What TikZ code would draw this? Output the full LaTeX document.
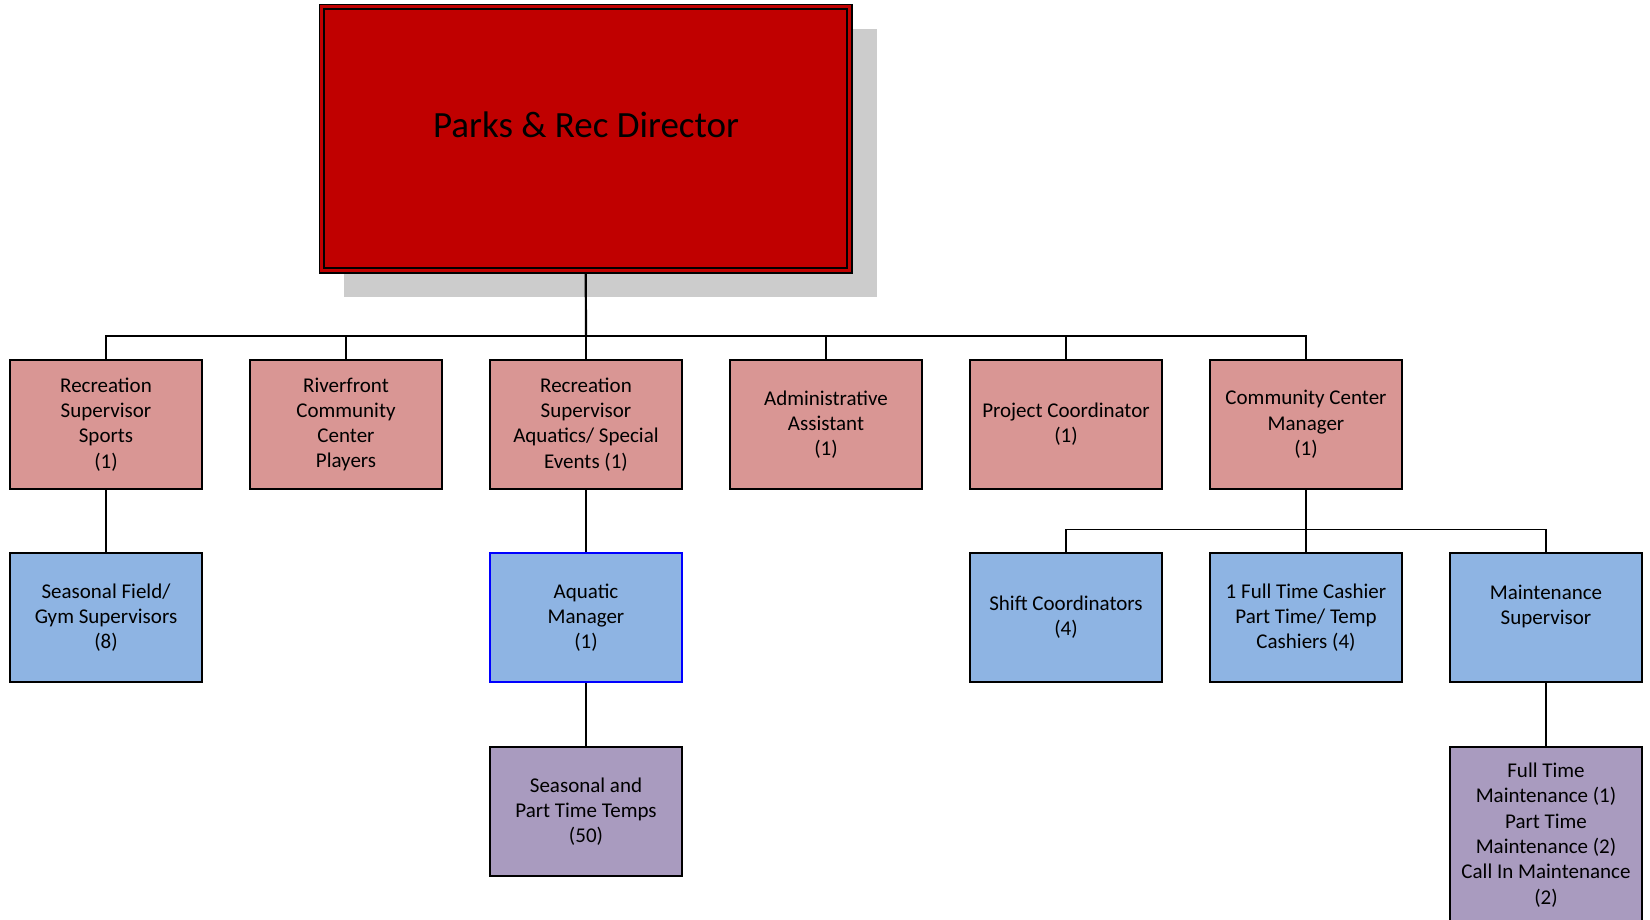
\documentclass[tikz,border=0pt]{standalone}
\usepackage{fontspec}
\setmainfont{Carlito}
\usetikzlibrary{shadows}
\definecolor{dirred}{HTML}{C00000}
\definecolor{shadegray}{HTML}{CCCCCC}
\definecolor{rolepink}{HTML}{D99694}
\definecolor{roleblue}{HTML}{8EB4E3}
\definecolor{rolepurple}{HTML}{A99BBF}
\begin{document}
\begin{tikzpicture}[x=1pt,y=-1pt,
  role/.style={draw=black, line width=1.5pt, minimum width=192pt, minimum height=129pt,
    inner sep=0pt, align=center, font=\fontsize{21}{25.3}\selectfont},
  pinkbox/.style={role, fill=rolepink},
  bluebox/.style={role, fill=roleblue},
  purplebox/.style={role, fill=rolepurple},
  conn/.style={draw=black, line width=1.6pt},
  trunk/.style={draw=black, line width=2.2pt},
  dirbox/.style={draw=black, line width=1.5pt, fill=dirred, minimum width=532.5pt,
    minimum height=268.5pt, inner sep=0pt,
    general shadow={fill=shadegray, shadow xshift=24.5pt, shadow yshift=-24pt}}
]
\clip (0,0) rectangle (1650,919);
\fill[white] (0,0) rectangle (1650,919);

% director
\node[dirbox] (dir) at (585.75,138.75) {};
\draw[line width=1.6pt] ([shift={(5.5,5.5)}]dir.north west) rectangle ([shift={(-5.5,-5.5)}]dir.south east);
\node[anchor=base, font=\fontsize{37}{44}\selectfont, inner sep=0pt] (dirlabel) at (586,137.3) {Parks \& Rec Director};

% first level
\node[pinkbox] (r1) at (106,424.5)  {Recreation\\Supervisor\\Sports\\(1)};
\node[pinkbox] (r2) at (346,424.5)  {Riverfront\\Community\\Center\\Players};
\node[pinkbox] (r3) at (586,424.5)  {Recreation\\Supervisor\\Aquatics/ Special\\Events (1)};
\node[pinkbox] (r4) at (826,424.5)  {Administrative\\Assistant\\(1)};
\node[pinkbox] (r5) at (1066,424.5) {Project Coordinator\\(1)};
\node[pinkbox] (r6) at (1306,424.5) {Community Center\\Manager\\(1)};

% second level
\node[bluebox] (s1) at (106,617.5)  {Seasonal Field/\\Gym Supervisors\\(8)};
\node[bluebox, draw=blue] (s3) at (586,617.5) {Aquatic\\Manager\\(1)};
\node[bluebox] (s5) at (1066,617.5) {Shift Coordinators\\(4)};
\node[bluebox] (s6) at (1306,617.5) {1 Full Time Cashier\\Part Time/ Temp\\Cashiers (4)};
\node[bluebox] (s7) at (1546,617.5) {Maintenance\\Supervisor\\\mbox{}};

% third level
\node[purplebox] (t3) at (586,811.5) {Seasonal and\\Part Time Temps\\(50)};
\node[purplebox, minimum height=176pt] (t7) at (1546,835) {Full Time\\Maintenance (1)\\Part Time\\Maintenance (2)\\Call In Maintenance\\(2)};

% connectors
\coordinate (bus) at (586,336);
\coordinate (bus2) at (1306,529.5);
\draw[trunk] (dir.south) -- (bus);
\draw[conn] (r1.north) -- (r1.north |- bus) -- (r6.north |- bus) -- (r6.north);
\foreach \n in {r2,r3,r4,r5} \draw[conn] (\n.north) -- (\n.north |- bus);
\draw[conn] (r1.south) -- (s1.north);
\draw[conn] (r3.south) -- (s3.north);
\draw[conn] (s3.south) -- (t3.north);
\draw[trunk] (r6.south) -- (bus2);
\draw[conn] (s5.north) -- (s5.north |- bus2) -- (s7.north |- bus2) -- (s7.north);
\draw[conn] (s6.north) -- (s6.north |- bus2);
\draw[conn] (s7.south) -- (t7.north);
\end{tikzpicture}
\end{document}
